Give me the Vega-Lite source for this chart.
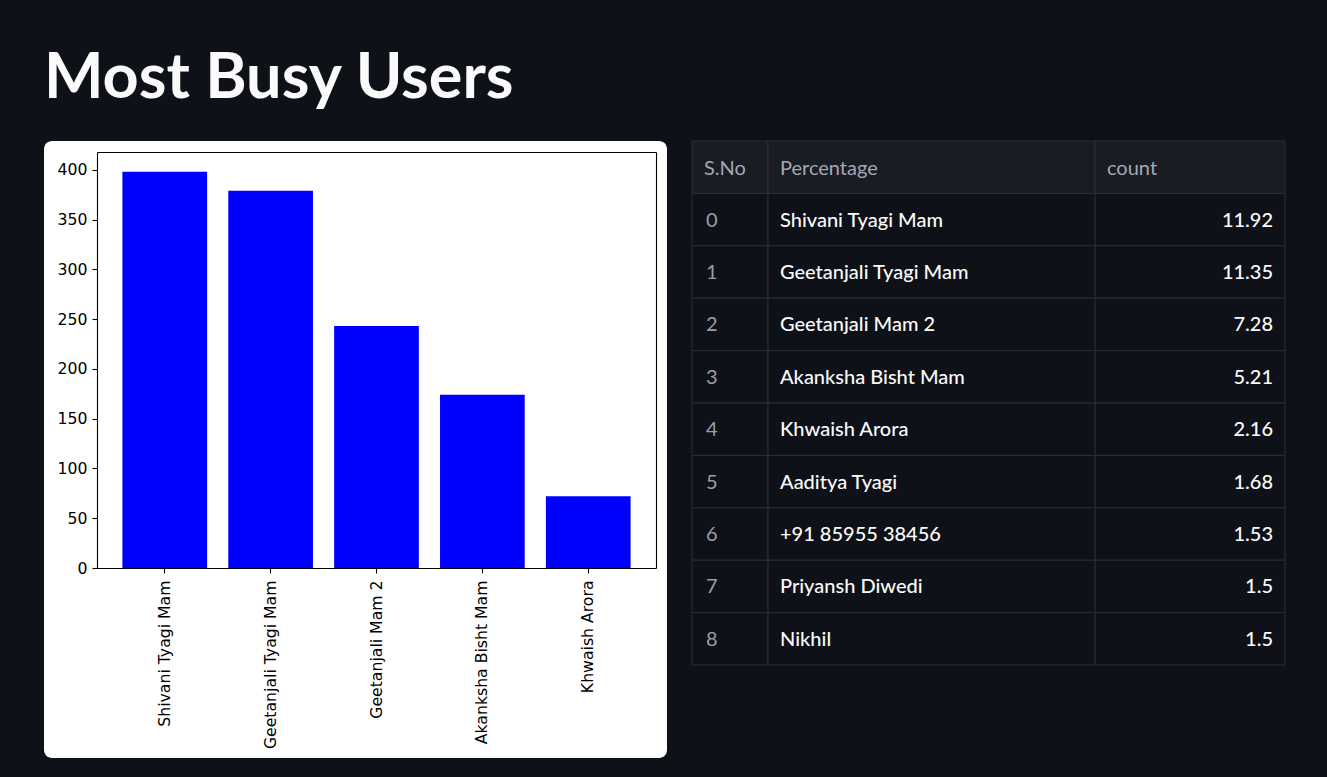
{
  "$schema": "https://vega.github.io/schema/vega-lite/v6.json",
  "background": "#0e1117",
  "padding": {"left": 44, "top": 47, "right": 43, "bottom": 19},
  "title": {"text": "Most Busy Users", "anchor": "start", "font": "Lato", "fontSize": 63, "fontWeight": "bold", "color": "#fafafa", "offset": 30},
  "config": {"view": {"stroke": null}, "concat": {"spacing": 0}},
  "datasets": {
    "bars": [
      {"user": "Shivani Tyagi Mam", "messages": 398},
      {"user": "Geetanjali Tyagi Mam", "messages": 379},
      {"user": "Geetanjali Mam 2", "messages": 243},
      {"user": "Akanksha Bisht Mam", "messages": 174},
      {"user": "Khwaish Arora", "messages": 72}
    ],
    "table": [
      {"idx": 0, "name": "Shivani Tyagi Mam", "count": "11.92"},
      {"idx": 1, "name": "Geetanjali Tyagi Mam", "count": "11.35"},
      {"idx": 2, "name": "Geetanjali Mam 2", "count": "7.28"},
      {"idx": 3, "name": "Akanksha Bisht Mam", "count": "5.21"},
      {"idx": 4, "name": "Khwaish Arora", "count": "2.16"},
      {"idx": 5, "name": "Aaditya Tyagi", "count": "1.68"},
      {"idx": 6, "name": "+91 85955 38456", "count": "1.53"},
      {"idx": 7, "name": "Priyansh Diwedi", "count": "1.5"},
      {"idx": 8, "name": "Nikhil", "count": "1.5"}
    ]
  },
  "hconcat": [
    {
      "width": 623,
      "height": 617,
      "view": {"fill": "white", "cornerRadius": 8, "stroke": null},
      "data": {"name": "bars"},
      "resolve": {"axis": {"x": "independent", "y": "independent"}},
      "layer": [
        {
          "mark": {"type": "bar", "color": "#0000ff"},
          "encoding": {
            "x": {"field": "user", "type": "nominal", "sort": null,
              "scale": {"range": [53, 612], "paddingInner": 0.2, "paddingOuter": 0.24},
              "axis": {"orient": "bottom", "offset": -190, "title": null, "labelAngle": -90, "labelFont": "DejaVu Sans", "labelFontSize": 15.7, "labelColor": "#000000", "labelPadding": 7, "tickSize": 5, "tickColor": "#000000", "domainColor": "#000000", "domainWidth": 1.1, "tickWidth": 1.1, "grid": false}},
            "y": {"field": "messages", "type": "quantitative",
              "scale": {"domain": [0, 417.9], "range": [427, 11], "nice": false, "zero": true},
              "axis": {"orient": "left", "offset": -53, "title": null, "values": [0, 50, 100, 150, 200, 250, 300, 350, 400], "labelFont": "DejaVu Sans", "labelFontSize": 15.7, "labelColor": "#000000", "labelPadding": 5, "tickSize": 5, "tickColor": "#000000", "domainColor": "#000000", "domainWidth": 1.1, "tickWidth": 1.1, "grid": false}}
          }
        },
        {
          "mark": {"type": "bar", "opacity": 0},
          "encoding": {
            "x": {"field": "user", "type": "nominal", "sort": null,
              "axis": {"orient": "top", "offset": -11, "title": null, "labels": false, "ticks": false, "domainColor": "#000000", "domainWidth": 1.1, "grid": false}},
            "y": {"field": "messages", "type": "quantitative",
              "axis": {"orient": "right", "offset": -11, "title": null, "labels": false, "ticks": false, "domainColor": "#000000", "domainWidth": 1.1, "grid": false}}
          }
        }
      ]
    },
    {
      "bounds": "flush",
      "hconcat": [
        {
          "width": 76,
          "height": 524,
          "layer": [
            {
              "data": {"name": "table"},
              "mark": {"type": "rect", "fill": "#0e1117", "stroke": "#2b2e36", "strokeWidth": 1},
              "encoding": {"y": {"field": "idx", "type": "ordinal", "scale": {"domain": [-1, 0, 1, 2, 3, 4, 5, 6, 7, 8], "paddingInner": 0, "paddingOuter": 0}, "axis": null}}
            },
            {
              "data": {"values": [{"head": "S.No"}]},
              "mark": {"type": "rect", "fill": "#1a1c24", "stroke": "#2b2e36", "strokeWidth": 1},
              "encoding": {"y": {"datum": -1, "type": "ordinal"}}
            },
            {
              "data": {"values": [{"head": "S.No"}]},
              "mark": {"type": "text", "font": "Lato", "fontSize": 20, "color": "#a3a8b4", "align": "left", "dx": 12, "dy": 2},
              "encoding": {"y": {"datum": -1, "type": "ordinal"}, "x": {"datum": 0, "type": "quantitative", "scale": {"domain": [0, 1]}, "axis": null}, "text": {"field": "head"}}
            },
            {
              "data": {"name": "table"},
              "mark": {"type": "text", "font": "Lato", "fontSize": 20, "color": "#9a9ea8", "align": "left", "dx": 14, "dy": 1},
              "encoding": {"y": {"field": "idx", "type": "ordinal"}, "x": {"datum": 0, "type": "quantitative"}, "text": {"field": "idx"}}
            }
          ]
        },
        {
          "width": 327,
          "height": 524,
          "layer": [
            {
              "data": {"name": "table"},
              "mark": {"type": "rect", "fill": "#0e1117", "stroke": "#2b2e36", "strokeWidth": 1},
              "encoding": {"y": {"field": "idx", "type": "ordinal", "scale": {"domain": [-1, 0, 1, 2, 3, 4, 5, 6, 7, 8], "paddingInner": 0, "paddingOuter": 0}, "axis": null}}
            },
            {
              "data": {"values": [{"head": "Percentage"}]},
              "mark": {"type": "rect", "fill": "#1a1c24", "stroke": "#2b2e36", "strokeWidth": 1},
              "encoding": {"y": {"datum": -1, "type": "ordinal"}}
            },
            {
              "data": {"values": [{"head": "Percentage"}]},
              "mark": {"type": "text", "font": "Lato", "fontSize": 20, "color": "#a3a8b4", "align": "left", "dx": 12, "dy": 2},
              "encoding": {"y": {"datum": -1, "type": "ordinal"}, "x": {"datum": 0, "type": "quantitative", "scale": {"domain": [0, 1]}, "axis": null}, "text": {"field": "head"}}
            },
            {
              "data": {"name": "table"},
              "mark": {"type": "text", "font": "Lato", "fontSize": 20, "fontWeight": 500, "color": "#fafafa", "align": "left", "dx": 12, "dy": 1},
              "encoding": {"y": {"field": "idx", "type": "ordinal"}, "x": {"datum": 0, "type": "quantitative"}, "text": {"field": "name"}}
            }
          ]
        },
        {
          "width": 190,
          "height": 524,
          "layer": [
            {
              "data": {"name": "table"},
              "mark": {"type": "rect", "fill": "#0e1117", "stroke": "#2b2e36", "strokeWidth": 1},
              "encoding": {"y": {"field": "idx", "type": "ordinal", "scale": {"domain": [-1, 0, 1, 2, 3, 4, 5, 6, 7, 8], "paddingInner": 0, "paddingOuter": 0}, "axis": null}}
            },
            {
              "data": {"values": [{"head": "count"}]},
              "mark": {"type": "rect", "fill": "#1a1c24", "stroke": "#2b2e36", "strokeWidth": 1},
              "encoding": {"y": {"datum": -1, "type": "ordinal"}}
            },
            {
              "data": {"values": [{"head": "count"}]},
              "mark": {"type": "text", "font": "Lato", "fontSize": 20, "color": "#a3a8b4", "align": "left", "dx": 12, "dy": 2},
              "encoding": {"y": {"datum": -1, "type": "ordinal"}, "x": {"datum": 0, "type": "quantitative", "scale": {"domain": [0, 1]}, "axis": null}, "text": {"field": "head"}}
            },
            {
              "data": {"name": "table"},
              "mark": {"type": "text", "font": "Lato", "fontSize": 20, "fontWeight": 500, "color": "#fafafa", "align": "right", "dx": -12, "dy": 1},
              "encoding": {"y": {"field": "idx", "type": "ordinal"}, "x": {"datum": 1, "type": "quantitative"}, "text": {"field": "count"}}
            }
          ]
        }
      ]
    }
  ],
  "spacing": 24
}
